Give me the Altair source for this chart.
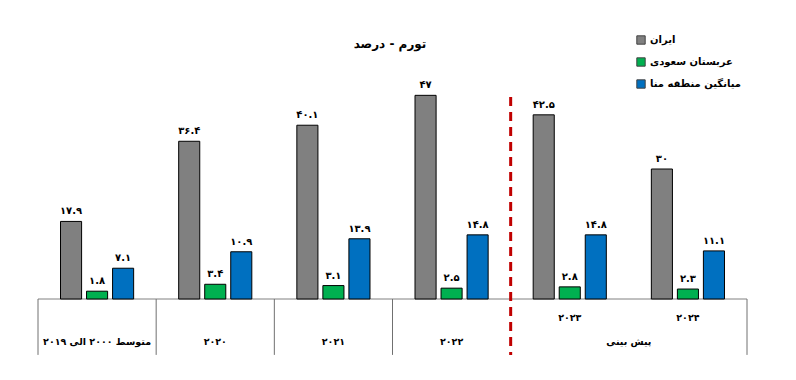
import altair as alt
import pandas as pd

categories = ["متوسط ۲۰۰۰ الی ۲۰۱۹", "۲۰۲۰", "۲۰۲۱", "۲۰۲۲", "۲۰۲۳", "۲۰۲۴"]
series = ["ایران", "عربستان سعودی", "میانگین منطقه منا"]
iran = [17.9, 36.4, 40.1, 47, 42.5, 30]
saudi = [1.8, 3.4, 3.1, 2.5, 2.8, 2.3]
mena = [7.1, 10.9, 13.9, 14.8, 14.8, 11.1]
colors = ["#808080", "#00B050", "#0070C0"]
title_text = "تورم - درصد"
forecast_text = "پیش بینی"

# group boundaries (in category-index units) and line extents (in y units)
sep_bounds = [0, 1, 2, 3, 6]
forecast_bound = 4
sep_bottom = -12.9
red_top = 46.6

FONT = "DejaVu Sans"
fa_digits = str.maketrans("0123456789", "۰۱۲۳۴۵۶۷۸۹")


def fa(v):
    s = f"{v:g}"
    return s.translate(fa_digits)


rows = []
for name, vals in zip(series, [iran, saudi, mena]):
    for c, v in zip(categories, vals):
        rows.append({"cat": c, "series": name, "value": v, "label": fa(v)})
df = pd.DataFrame(rows)

W, H = 709, 260
HALF = W / len(categories) / 2
xscale = alt.Scale(domain=categories, paddingInner=0, paddingOuter=0)
offscale = alt.Scale(domain=series, paddingInner=0.19, paddingOuter=0.865)
yscale = alt.Scale(domain=[0, 60])
bscale = alt.Scale(domain=[0, len(categories)])

base = alt.Chart(df)

bars = base.mark_bar(stroke="black", strokeWidth=1).encode(
    x=alt.X("cat:N", scale=xscale, axis=None),
    xOffset=alt.XOffset("series:N", scale=offscale),
    y=alt.Y("value:Q", scale=yscale, axis=None),
    color=alt.Color(
        "series:N",
        scale=alt.Scale(domain=series, range=colors),
        legend=alt.Legend(
            title=None,
            orient="none",
            legendX=598,
            legendY=-4,
            symbolType="square",
            symbolSize=70,
            symbolStrokeColor="#404040",
            symbolStrokeWidth=1,
            labelFont=FONT,
            labelFontWeight="bold",
            labelFontSize=10,
            labelColor="black",
            rowPadding=8,
            padding=0,
        ),
    ),
)

vlabels = base.mark_text(
    font=FONT, fontWeight="bold", fontSize=10, baseline="alphabetic", dy=-7, color="black"
).encode(
    x=alt.X("cat:N", scale=xscale),
    xOffset=alt.XOffset("series:N", scale=offscale),
    y=alt.Y("value:Q", scale=yscale),
    text="label:N",
)

low_labels = alt.Chart(pd.DataFrame({"cat": categories[:4]})).mark_text(
    font=FONT, fontWeight="bold", fontSize=9.5, baseline="middle", color="black"
).encode(
    x=alt.X("cat:N", scale=xscale),
    y=alt.value(H + 43),
    text="cat:N",
)
up_labels = alt.Chart(pd.DataFrame({"cat": categories[4:]})).mark_text(
    font=FONT, fontWeight="bold", fontSize=9.5, baseline="middle", color="black"
).encode(
    x=alt.X("cat:N", scale=xscale),
    y=alt.value(H + 19),
    text="cat:N",
)
forecast = alt.Chart(pd.DataFrame({"cat": [categories[5]], "t": [forecast_text]})).mark_text(
    font=FONT, fontWeight="bold", fontSize=9.5, baseline="middle", color="black", dx=-HALF
).encode(
    x=alt.X("cat:N", scale=xscale),
    y=alt.value(H + 43),
    text="t:N",
)

title = alt.Chart(pd.DataFrame({"t": [title_text]})).mark_text(
    font=FONT, fontWeight="bold", fontSize=12, baseline="middle", color="black"
).encode(x=alt.value(352), y=alt.value(5), text="t:N")

cat_layer = alt.layer(bars, vlabels, low_labels, up_labels, forecast, title)

# line layers on a linear boundary scale
sep_rows = []
for b in sep_bounds:
    sep_rows.append({"b": b, "y": 0, "k": f"s{b}"})
    sep_rows.append({"b": b, "y": sep_bottom, "k": f"s{b}"})
seps = alt.Chart(pd.DataFrame(sep_rows)).mark_line(color="#707070", strokeWidth=1).encode(
    x=alt.X("b:Q", scale=bscale, axis=None),
    y=alt.Y("y:Q", scale=yscale, axis=None),
    detail="k:N",
)
base_line = alt.Chart(
    pd.DataFrame({"b": [0, len(categories)], "y": [0, 0]})
).mark_line(color="#808080", strokeWidth=1).encode(
    x=alt.X("b:Q", scale=bscale, axis=None),
    y=alt.Y("y:Q", scale=yscale, axis=None),
)
red_line = alt.Chart(
    pd.DataFrame({"b": [forecast_bound, forecast_bound], "y": [red_top, sep_bottom]})
).mark_line(color="#C00000", strokeWidth=3, strokeDash=[9, 6]).encode(
    x=alt.X("b:Q", scale=bscale, axis=None),
    y=alt.Y("y:Q", scale=yscale, axis=None),
)
line_layer = alt.layer(base_line, seps, red_line)

chart = alt.layer(line_layer, cat_layer).resolve_scale(x="independent").properties(
    width=W,
    height=H,
    padding={"left": 30, "top": 31, "right": 40, "bottom": 60},
    autosize=alt.AutoSizeParams(type="none"),
).configure_view(stroke=None)

chart.save("out.html", embed_options={"renderer": "svg", "actions": False})
